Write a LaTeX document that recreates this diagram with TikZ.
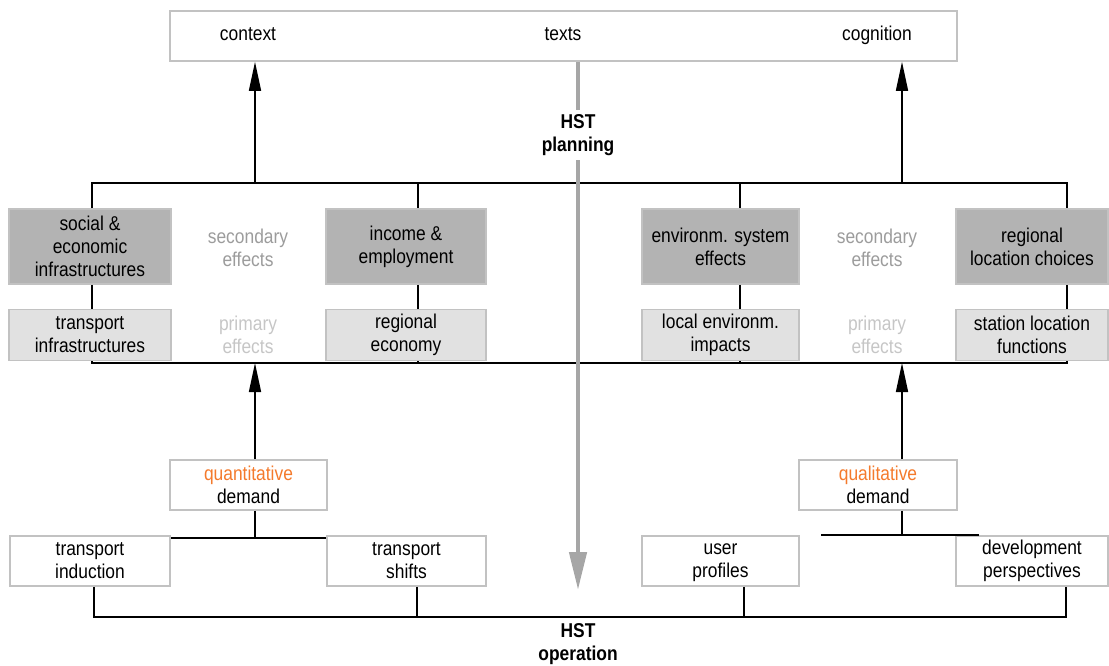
\documentclass[tikz,border=0pt]{standalone}
\usepackage{fontspec}
\setmainfont{Liberation Sans}[FakeStretch=0.87]
\usepackage{tikz}
\usetikzlibrary{arrows.meta, positioning}
\definecolor{boxgray}{HTML}{C2C2C2}
\definecolor{secfill}{HTML}{B3B3B3}
\definecolor{primfill}{HTML}{E1E1E1}
\definecolor{flowgray}{HTML}{A6A6A6}
\definecolor{effgray}{HTML}{9C9C9C}
\definecolor{effpale}{HTML}{C6C6C6}
\definecolor{demorange}{HTML}{F47A2C}
\tikzstyle{topbox} = [draw=boxgray, line width=1.6pt, minimum width=787pt, minimum height=50pt]
\tikzstyle{secbox} = [draw=boxgray, fill=secfill, line width=1.6pt, minimum height=75pt, align=center]
\tikzstyle{primbox} = [draw=boxgray, fill=primfill, line width=1.6pt, minimum height=51pt, align=center]
\tikzstyle{plainbox} = [draw=boxgray, line width=1.6pt, minimum height=50pt, align=center]
\tikzstyle{word} = [text height=14pt, text depth=4pt]
\tikzstyle{effect} = [align=center]
\tikzstyle{hst} = [align=center, font=\fontsize{20}{23}\selectfont\bfseries]
\tikzstyle{link} = [line width=1.6pt]
\tikzstyle{arrow} = [line width=1.6pt, -{Triangle[length=29pt,width=12pt]}]
\tikzstyle{flow} = [line width=4.5pt, draw=flowgray, -{Triangle[length=38pt,width=17pt]}]

\begin{document}
\begin{tikzpicture}[x=1pt, y=-1pt, font=\fontsize{20}{23}\selectfont]
            \useasboundingbox (0,0) rectangle (1109,666);

            % top: context / texts / cognition
            \node[topbox] (top) at (563.5,36) {};
            \node[word] (ctx) at (248,36) {context};
            \node[word] (txt) at (563,36) {texts};
            \node[word] (cog) at (877,36) {cognition};

            % secondary effects
            \node[secbox, minimum width=162pt] (secA) at (90,246.5) {social \&\\economic\\infrastructures};
            \node[secbox, minimum width=160pt] (secB) at (406,246.5) {income \&\\employment};
            \node[secbox, minimum width=157pt] (secC) at (720.5,246.5) {environm. system\\effects};
            \node[secbox, minimum width=152pt] (secD) at (1032,246.5) {regional\\location choices};
            \node[effect, text=effgray] (secL) at (248,248) {secondary\\effects};
            \node[effect, text=effgray] (secR) at (877,248) {secondary\\effects};

            % primary effects
            \node[primbox, minimum width=162pt, below=24pt of secA] (primA) {transport\\infrastructures};
            \node[primbox, minimum width=160pt, below=24pt of secB] (primB) {regional\\economy};
            \node[primbox, minimum width=157pt, below=24pt of secC] (primC) {local environm.\\impacts};
            \node[primbox, minimum width=152pt, below=24pt of secD] (primD) {station location\\functions};
            \node[effect, text=effpale] (primL) at (248,335) {primary\\effects};
            \node[effect, text=effpale] (primR) at (877,335) {primary\\effects};

            % demand
            \node[plainbox, minimum width=157pt] (quant) at (248.5,485) {\textcolor{demorange}{quantitative}\\demand};
            \node[plainbox, minimum width=158pt] (qual) at (878,485) {\textcolor{demorange}{qualitative}\\demand};

            % operation level
            \node[plainbox, minimum width=160pt] (ind) at (90,561) {transport\\induction};
            \node[plainbox, minimum width=159pt] (shf) at (406.5,561) {transport\\shifts};
            \node[plainbox, minimum width=157pt] (prof) at (720.5,561) {\vphantom{l}user\\profiles};
            \node[plainbox, minimum width=152pt] (dev) at (1032,561) {development\\perspectives};

            \coordinate (k1) at (92,183);  \coordinate (k2) at (255,183);
            \coordinate (k3) at (418,183); \coordinate (k4) at (740,183);
            \coordinate (k5) at (902,183); \coordinate (k6) at (1067,183);
            \coordinate (m1) at (92,363);  \coordinate (m2) at (255,363);
            \coordinate (m3) at (418,363); \coordinate (m4) at (740,363);
            \coordinate (m5) at (902,363); \coordinate (m6) at (1067,363);
            \coordinate (b1) at (94,617);  \coordinate (b3) at (417,617);
            \coordinate (b4) at (744,617); \coordinate (b6) at (1066,617);
            \coordinate (qa) at (255,538);
            \coordinate (qb) at (902,535);
            \coordinate (qbl) at (821,535); \coordinate (qbr) at (979,535);

            % upper bus
            \draw[link] (secA.north -| k1) -- (k1) -- (k6) -- (secD.north -| k6);
            \draw[link] (k3) -- (secB.north -| k3);
            \draw[link] (k4) -- (secC.north -| k4);
            \draw[arrow] (k2) -- (top.south -| k2);
            \draw[arrow] (k5) -- (top.south -| k5);

            \foreach \s/\p/\k in {secA/primA/k1, secB/primB/k3, secC/primC/k4, secD/primD/k6}
                \draw[link] (\s.south -| \k) -- (\p.north -| \k);

            % middle bus
            \draw[link] (primA.south -| m1) -- (m1) -- (m6) -- (primD.south -| m6);
            \draw[link] (primB.south -| m3) -- (m3);
            \draw[link] (primC.south -| m4) -- (m4);
            \draw[arrow] (quant.north -| m2) -- (m2);
            \draw[arrow] (qual.north -| m5) -- (m5);

            % demand links
            \draw[link] (quant.south -| qa) -- (qa);
            \draw[link] (ind.north east |- qa) -- (shf.north west |- qa);
            \draw[link] (qual.south -| qb) -- (qb);
            \draw[link] (qbl) -- (qbr);

            % lower bus
            \draw[link] (ind.south -| b1) -- (b1) -- (b6) -- (dev.south -| b6);
            \draw[link] (shf.south -| b3) -- (b3);
            \draw[link] (prof.south -| b4) -- (b4);

            % HST flow
            \coordinate (flowtip) at (578,590);
            \draw[flow] (top.south -| flowtip) -- (flowtip);
            \node[hst, fill=white, inner ysep=4pt] (plan) at (578,135) {HST\\planning};
            \node[hst] (oper) at (578,644) {HST\\operation};

        \end{tikzpicture}
\end{document}
